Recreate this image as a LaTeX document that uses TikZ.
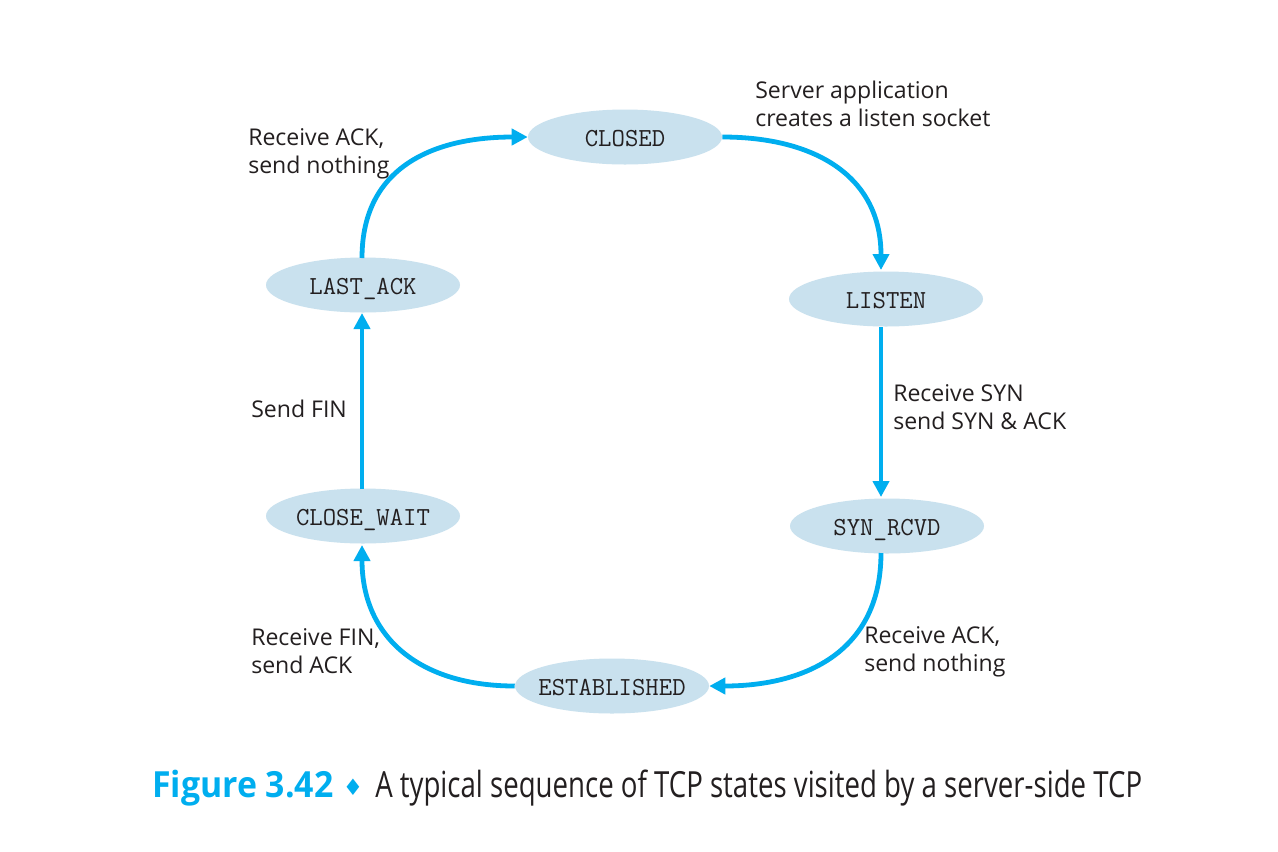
\documentclass[tikz,border=0pt]{standalone}
\usepackage{fontspec}
\usepackage{graphicx}
\setmainfont{Open Sans}
\newfontfamily\symfont{DejaVu Sans}
\usetikzlibrary{arrows.meta,shapes.geometric}
\definecolor{arrowcyan}{RGB}{0,174,239}
\definecolor{statefill}{RGB}{201,225,238}
\definecolor{textgray}{RGB}{35,31,32}
\newcommand{\stname}[1]{\makebox[0pt][c]{#1}}
\tikzset{
  state/.style={ellipse, fill=statefill, minimum width=145.5pt, minimum height=41.25pt, inner sep=0pt,
    text height=14.6pt, text depth=0pt,
    font=\ttfamily\fontsize{19.5}{20}\selectfont\addfontfeature{FakeBold=1.2}, text=textgray},
  flow/.style={draw=arrowcyan, line width=3.6pt, -{Triangle[length=12pt,width=12pt]}},
  lbl/.style={anchor=west, align=left, font=\fontsize{17.3}{21}\selectfont, text=textgray, inner sep=0pt},
}
\begin{document}
\begin{tikzpicture}[x=0.75pt,y=-0.75pt]
\useasboundingbox (0,0) rectangle (1278,851);
\fill[white] (0,0) rectangle (1278,851);
\node[state] (closed) at (625,137) {\stname{CLOSED}};
\node[state] (listen) at (886,299) {\stname{LISTEN}};
\node[state] (lastack) at (363,285) {\stname{LAST\_ACK}};
\node[state] (closewait) at (363,516) {\stname{CLOSE\_WAIT}};
\node[state] (synrcvd) at (887,526) {\stname{SYN\_RCVD}};
\node[state] (established) at (612,686) {\stname{ESTABLISHED}};

\coordinate (c1) at (881,270);
\coordinate (l1) at (881,327);
\coordinate (s1) at (881,497);
\coordinate (s2) at (881,553);
\coordinate (la1) at (362,258);
\coordinate (la2) at (362,313);
\coordinate (cw1) at (362,489);
\coordinate (cw2) at (362,545);

\draw[flow] (closed.east) to[out=0,in=90,looseness=1.15] (c1);
\draw[flow] (l1) -- (s1);
\draw[flow] (s2) to[out=-90,in=0,looseness=1.15] (established.east);
\draw[flow] (established.west) to[out=180,in=-90,looseness=1.15] (cw2);
\draw[flow] (cw1) -- (la2);
\draw[flow] (la1) to[out=90,in=180,looseness=1.15] (closed.west);

\node[lbl] (t1) at (755,104) {Server application\\creates a listen socket};
\node[lbl] (t2) at (248,154) {Receive ACK,\\send nothing};
\node[lbl] (t3) at (893,407) {Receive SYN\\send SYN \& ACK};
\node[lbl] (t4) at (251,409) {Send FIN};
\node[lbl] (t5) at (251,651) {Receive FIN,\\send ACK};
\node[lbl] (t6) at (864,652) {Receive ACK,\\send nothing};

\node[anchor=base west, inner sep=0pt, text=arrowcyan, font=\fontsize{27}{30}\selectfont\bfseries] (fig) at (152,797) {\scalebox{0.94}[1]{Figure 3.42}};
\node[anchor=base, inner sep=0pt, text=arrowcyan, font=\symfont\fontsize{17}{20}\selectfont] (dia) at (353,795) {♦};
\node[anchor=base west, inner sep=0pt, text=textgray, font=\fontsize{27}{30}\selectfont] (cap) at (375,797) {\scalebox{0.767}[1]{A typical sequence of TCP states visited by a server-side TCP}};
\end{tikzpicture}
\end{document}
